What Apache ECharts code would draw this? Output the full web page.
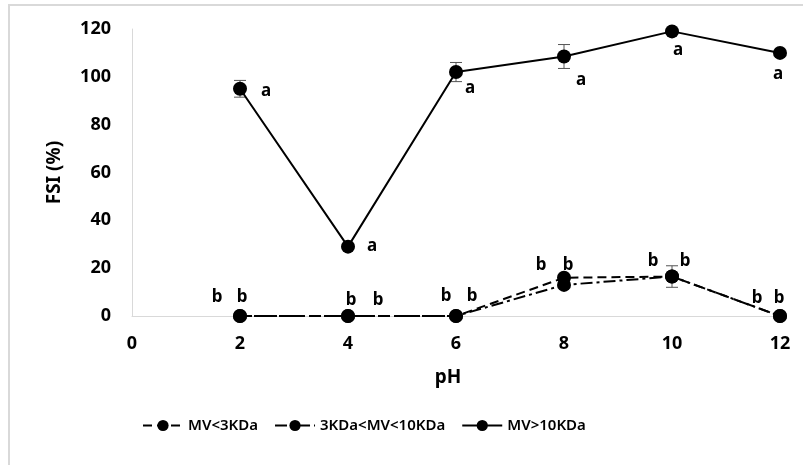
<!DOCTYPE html>
<html>
<head>
<meta charset="utf-8">
<script src="https://cdn.jsdelivr.net/npm/echarts@6/dist/echarts.min.js"></script>
<style>html,body{margin:0;padding:0;background:#fff}#c{width:803px;height:465px}</style>
</head>
<body>
<div id="c"></div>
<script>
var phValues = [2, 4, 6, 8, 10, 12];
var xTicks = [0, 2, 4, 6, 8, 10, 12];
var yTicks = [0, 20, 40, 60, 80, 100, 120];
var seriesNames = ['MV<3KDa', '3KDa<MV<10KDa', 'MV>10KDa'];
var mvLow = [0, 0, 0, 16, 16.5, 0];
var mvMid = [0, 0, 0, 13, 16.5, 0];
var mvHigh = [95, 29, 102, 108.5, 119, 110];
var errLow = [0, 0, 0, 0, 0, 0];
var errMid = [0, 0, 0, 0, 4.5, 0];
var errHigh = [3.5, 0, 4, 5, 0, 0];
var letterLow = ['b', 'b', 'b', 'b', 'b', 'b'];
var letterMid = ['b', 'b', 'b', 'b', 'b', 'b'];
var letterHigh = ['a', 'a', 'a', 'a', 'a', 'a'];

// label offsets (styling)
var offLow = [[-23, -19], [3, -16], [-10, -20], [-23, -13], [-19, -15], [-23, -18]];
var offMid = [[2, -19], [30, -16], [16, -20], [4, -20], [13, -15], [-1, -18]];
var offHigh = [[26, 2], [24, 0], [14, 16], [17, 24], [6, 19], [-2, 21]];

var FONT = 'Noto Sans';

function mkData(vals, letters, offs) {
  return vals.map(function (v, i) {
    return {
      value: [phValues[i], v],
      label: {
        show: true, formatter: letters[i], position: 'inside',
        offset: offs[i], color: '#000', fontFamily: FONT, fontWeight: 'bold', fontSize: 17
      }
    };
  });
}

function errData(vals, errs) {
  var out = [];
  vals.forEach(function (v, i) {
    if (errs[i] > 0) out.push([phValues[i], v - errs[i], v + errs[i]]);
  });
  return out;
}

function errSeries(vals, errs) {
  return {
    type: 'custom',
    silent: true,
    z: 1,
    data: errData(vals, errs),
    renderItem: function (params, api) {
      var lo = api.coord([api.value(0), api.value(1)]);
      var hi = api.coord([api.value(0), api.value(2)]);
      var w = 6;
      var st = { stroke: '#555', lineWidth: 1 };
      return {
        type: 'group',
        children: [
          { type: 'line', shape: { x1: lo[0], y1: lo[1], x2: hi[0], y2: hi[1] }, style: st },
          { type: 'line', shape: { x1: lo[0] - w, y1: lo[1], x2: lo[0] + w, y2: lo[1] }, style: st },
          { type: 'line', shape: { x1: hi[0] - w, y1: hi[1], x2: hi[0] + w, y2: hi[1] }, style: st }
        ]
      };
    }
  };
}

var chart = echarts.init(document.getElementById('c'), null, { renderer: 'canvas' });
var option = {
  animation: false,
  backgroundColor: '#fff',
  textStyle: { fontFamily: FONT },
  graphic: [
    { type: 'line', shape: { x1: 8, y1: 5, x2: 803, y2: 5 }, style: { stroke: '#d9d9d9', lineWidth: 2 } },
    { type: 'line', shape: { x1: 9, y1: 5, x2: 9, y2: 465 }, style: { stroke: '#d9d9d9', lineWidth: 2 } }
  ],
  grid: { left: 132, right: 23, top: 29, bottom: 149, containLabel: false },
  xAxis: {
    type: 'value', min: 0, max: 12, interval: 2,
    name: 'pH', nameLocation: 'middle', nameGap: 52,
    nameTextStyle: { fontFamily: FONT, fontWeight: 'bold', fontSize: 19, color: '#000', padding: [0, 16, 0, 0] },
    axisLine: { lineStyle: { color: '#d9d9d9', width: 1 } },
    axisTick: { show: false },
    splitLine: { show: false },
    axisLabel: {
      margin: 19, color: '#000', fontFamily: FONT, fontWeight: 'bold', fontSize: 18,
      formatter: function (v) { return xTicks.indexOf(v) >= 0 ? String(v) : ''; }
    }
  },
  yAxis: {
    type: 'value', min: 0, max: 120, interval: 20,
    name: 'FSI (%)', nameLocation: 'middle', nameGap: 68, nameRotate: 90,
    nameTextStyle: { fontFamily: FONT, fontWeight: 'bold', fontSize: 19, color: '#000' },
    axisLine: { show: true, lineStyle: { color: '#d9d9d9', width: 1 } },
    axisTick: { show: false },
    splitLine: { show: false },
    axisLabel: {
      margin: 21, color: '#000', fontFamily: FONT, fontWeight: 'bold', fontSize: 18,
      formatter: function (v) { return yTicks.indexOf(v) >= 0 ? String(v) : ''; }
    }
  },
  legend: {
    data: seriesNames,
    left: 137, top: 413,
    itemWidth: 40, itemHeight: 14, itemGap: 16,
    textStyle: { fontFamily: FONT, fontSize: 15, fontWeight: 600, color: '#000' }
  },
  series: [
    {
      name: seriesNames[0], type: 'line', data: mkData(mvLow, letterLow, offLow),
      symbol: 'circle', symbolSize: 14, z: 3,
      itemStyle: { color: '#000' },
      lineStyle: { color: '#000', width: 2, type: [9, 5] }
    },
    {
      name: seriesNames[1], type: 'line', data: mkData(mvMid, letterMid, offMid),
      symbol: 'circle', symbolSize: 14, z: 3,
      itemStyle: { color: '#000' },
      lineStyle: { color: '#000', width: 2, type: [12, 4, 3, 4] }
    },
    {
      name: seriesNames[2], type: 'line', data: mkData(mvHigh, letterHigh, offHigh),
      symbol: 'circle', symbolSize: 14, z: 3,
      itemStyle: { color: '#000' },
      lineStyle: { color: '#000', width: 2, type: 'solid' }
    },
    errSeries(mvLow, errLow),
    errSeries(mvMid, errMid),
    errSeries(mvHigh, errHigh)
  ]
};
chart.setOption(option);
</script>
</body>
</html>
